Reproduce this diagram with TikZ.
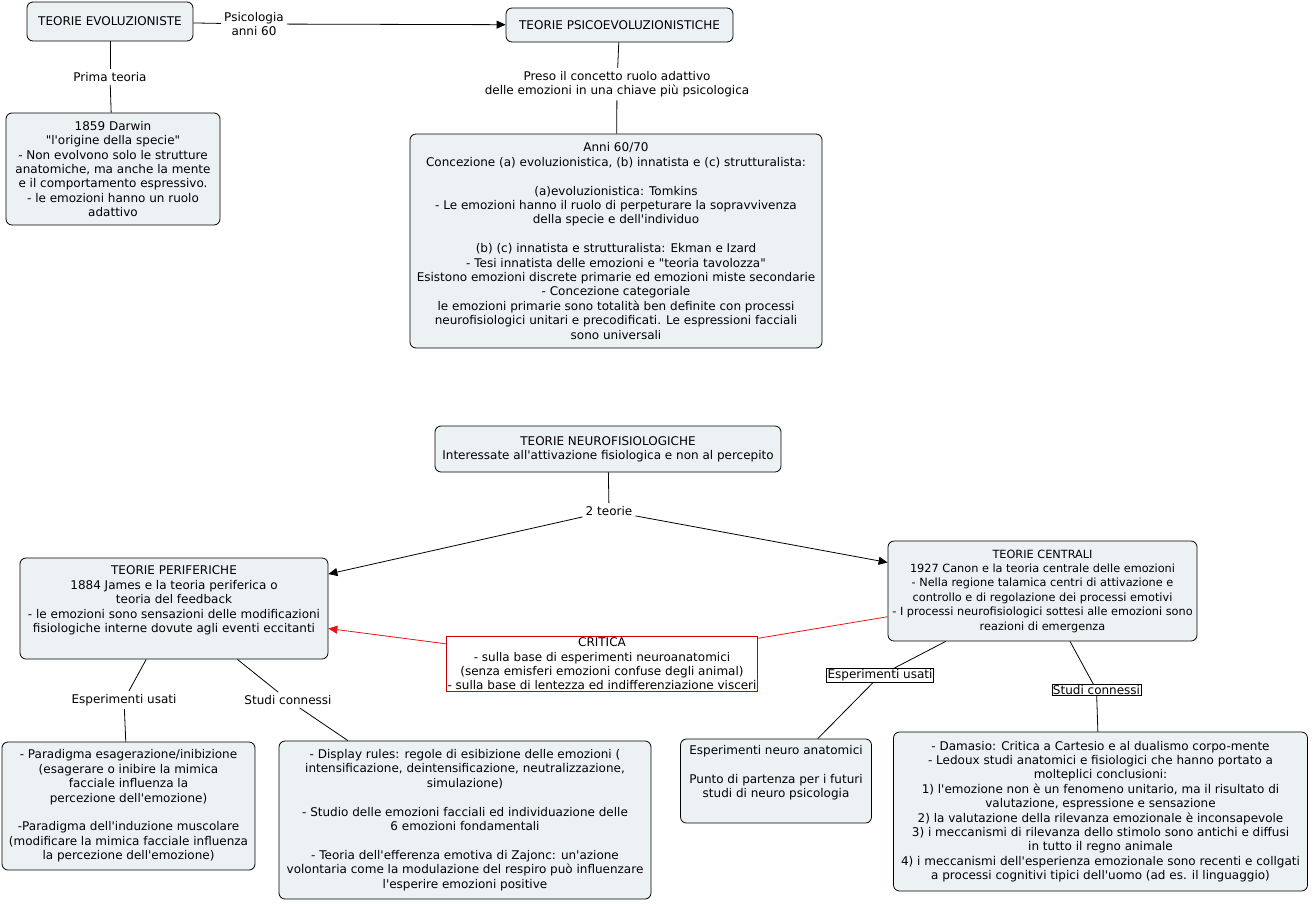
\documentclass[tikz,border=0pt]{standalone}
\usepackage{fontspec}
\setmainfont{DejaVu Sans}[Ligatures=TeXOff]
\usepackage{xcolor}
\usepackage{tikz}
\usetikzlibrary{arrows.meta}

\definecolor{conceptfill}{RGB}{236,242,244}
\definecolor{critred}{RGB}{204,0,0}
\definecolor{linkred}{RGB}{230,20,20}

\begin{document}
\begin{tikzpicture}[
    x=1pt, y=-1pt,
    >={Triangle[length=9pt, width=8pt]},
    every node/.style={font=\fontsize{12}{14.4}\selectfont},
    concept/.style={
        draw,
        line width=0.8pt,
        fill=conceptfill,
        rounded corners=6pt,
        align=center,
        inner sep=3pt
    },
    link label/.style={align=center, inner sep=3pt},
    boxed label/.style={draw, line width=0.6pt, fill=white, inner sep=1pt},
    critica box/.style={draw=critred, line width=0.7pt, fill=white,
        align=center, inner xsep=1pt, inner ysep=1.5pt},
    link/.style={line width=0.8pt}
]
\useasboundingbox (0,0) rectangle (1313,903);

% Upper part: evolutionary theories
\node[concept, minimum width=166pt, minimum height=39pt] (evol) at (110,21.5)
    {TEORIE EVOLUZIONISTE};
\node[concept, minimum width=227pt, minimum height=34pt] (psico) at (619.5,25)
    {TEORIE PSICOEVOLUZIONISTICHE};
\node[concept, minimum width=214pt, minimum height=112pt] (darwin) at (113,169)
    {1859 Darwin\\"l'origine della specie"\\- Non evolvono solo le strutture\\anatomiche, ma anche la mente\\e il comportamento espressivo.\\- le emozioni hanno un ruolo\\adattivo};
\node[concept, minimum width=412pt, minimum height=214pt] (anni) at (616,241)
    {Anni 60/70\\Concezione (a) evoluzionistica, (b) innatista e (c) strutturalista:\\\strut\\(a)evoluzionistica: Tomkins\\- Le emozioni hanno il ruolo di perpeturare la sopravvivenza\\della specie e dell'individuo\\\strut\\(b) (c) innatista e strutturalista: Ekman e Izard\\- Tesi innatista delle emozioni e "teoria tavolozza"\\Esistono emozioni discrete primarie ed emozioni miste secondarie\\- Concezione categoriale\\le emozioni primarie sono totalità ben definite con processi\\neurofisiologici unitari e precodificati. Le espressioni facciali\\sono universali};

\node[link label] (psi) at (254,24) {Psicologia\\anni 60};
\node[link label] (prima) at (110,77) {Prima teoria};
\node[link label] (preso) at (617,84)
    {Preso il concetto ruolo adattivo\\delle emozioni in una chiave più psicologica};

\draw[link] (evol) -- (psi);
\draw[link, ->] (psi) -- (psico);
\draw[link] (evol) -- (prima);
\draw[link] (prima) -- (darwin);
\draw[link] (psico) -- (preso);
\draw[link] (preso) -- (anni);

% Lower part: neurophysiological theories
\node[concept, minimum width=346pt, minimum height=46pt] (neuro) at (608,449)
    {TEORIE NEUROFISIOLOGICHE\\Interessate all'attivazione fisiologica e non al percepito};
\node[concept, minimum width=308pt, minimum height=101pt] (perif) at (174,608.5)
    {TEORIE PERIFERICHE\\1884 James e la teoria periferica o\\teoria del feedback\\- le emozioni sono sensazioni delle modificazioni\\fisiologiche interne dovute agli eventi eccitanti\\\strut};
\node[concept, minimum width=309pt, minimum height=100pt,
      font=\fontsize{11.3}{14.4}\selectfont] (centrali) at (1042.5,591)
    {TEORIE CENTRALI\\1927 Canon e la teoria centrale delle emozioni\\- Nella regione talamica centri di attivazione e\\controllo e di regolazione dei processi emotivi\\- I processi neurofisiologici sottesi alle emozioni sono\\reazioni di emergenza};
\node[critica box] (critica) at (602,664)
    {CRITICA\\- sulla base di esperimenti neuroanatomici\\(senza emisferi emozioni confuse degli animal)\\- sulla base di lentezza ed indifferenziazione visceri};

\node[concept, minimum width=253pt, minimum height=128pt] (parad) at (128.5,806)
    {- Paradigma esagerazione/inibizione\\(esagerare o inibire la mimica\\facciale influenza la\\percezione dell'emozione)\\\strut\\-Paradigma dell'induzione muscolare\\(modificare la mimica facciale influenza\\la percezione dell'emozione)};
\node[concept, minimum width=372pt, minimum height=158pt] (display) at (465,820)
    {- Display rules: regole di esibizione delle emozioni (\\intensificazione, deintensificazione, neutralizzazione,\\simulazione)\\\strut\\- Studio delle emozioni facciali ed individuazione delle\\6 emozioni fondamentali\\\strut\\- Teoria dell'efferenza emotiva di Zajonc: un'azione\\volontaria come la modulazione del respiro può influenzare\\l'esperire emozioni positive};
\node[concept, minimum width=191pt, minimum height=84pt] (espneuro) at (776,781)
    {Esperimenti neuro anatomici\\\strut\\Punto di partenza per i futuri\\studi di neuro psicologia\\\strut};
\node[concept, minimum width=414pt, minimum height=159pt] (damasio) at (1100.5,811.5)
    {- Damasio: Critica a Cartesio e al dualismo corpo-mente\\- Ledoux studi anatomici e fisiologici che hanno portato a\\molteplici conclusioni:\\1) l'emozione non è un fenomeno unitario, ma il risultato di\\valutazione, espressione e sensazione\\2) la valutazione della rilevanza emozionale è inconsapevole\\3) i meccanismi di rilevanza dello stimolo sono antichi e diffusi\\in tutto il regno animale\\4) i meccanismi dell'esperienza emozionale sono recenti e collgati\\a processi cognitivi tipici dell'uomo (ad es. il linguaggio)};

\node[link label] (teorie) at (609,511) {2 teorie};
\node[link label] (espP) at (124,700) {Esperimenti usati};
\node[link label] (studiP) at (288,700) {Studi connessi};
\node[boxed label] (espC) at (880,675.5) {Esperimenti usati};
\node[boxed label] (studiC) at (1096.5,690) {Studi connessi};

\draw[link] (neuro) -- (teorie);
\draw[link, ->] (teorie) -- (perif);
\draw[link, ->] (teorie) -- (centrali);
\draw[link, linkred] (centrali) -- (critica);
\draw[link, linkred, ->] (critica) -- (perif);

\draw[link] (perif) -- (espP);
\draw[link] (espP) -- (parad);
\draw[link] (perif) -- (studiP);
\draw[link] (studiP) -- (display);
\draw[link] (centrali) -- (espC);
\draw[link] (espC) -- (espneuro);
\draw[link] (centrali) -- (studiC);
\draw[link] (studiC) -- (damasio);

\end{tikzpicture}
\end{document}
